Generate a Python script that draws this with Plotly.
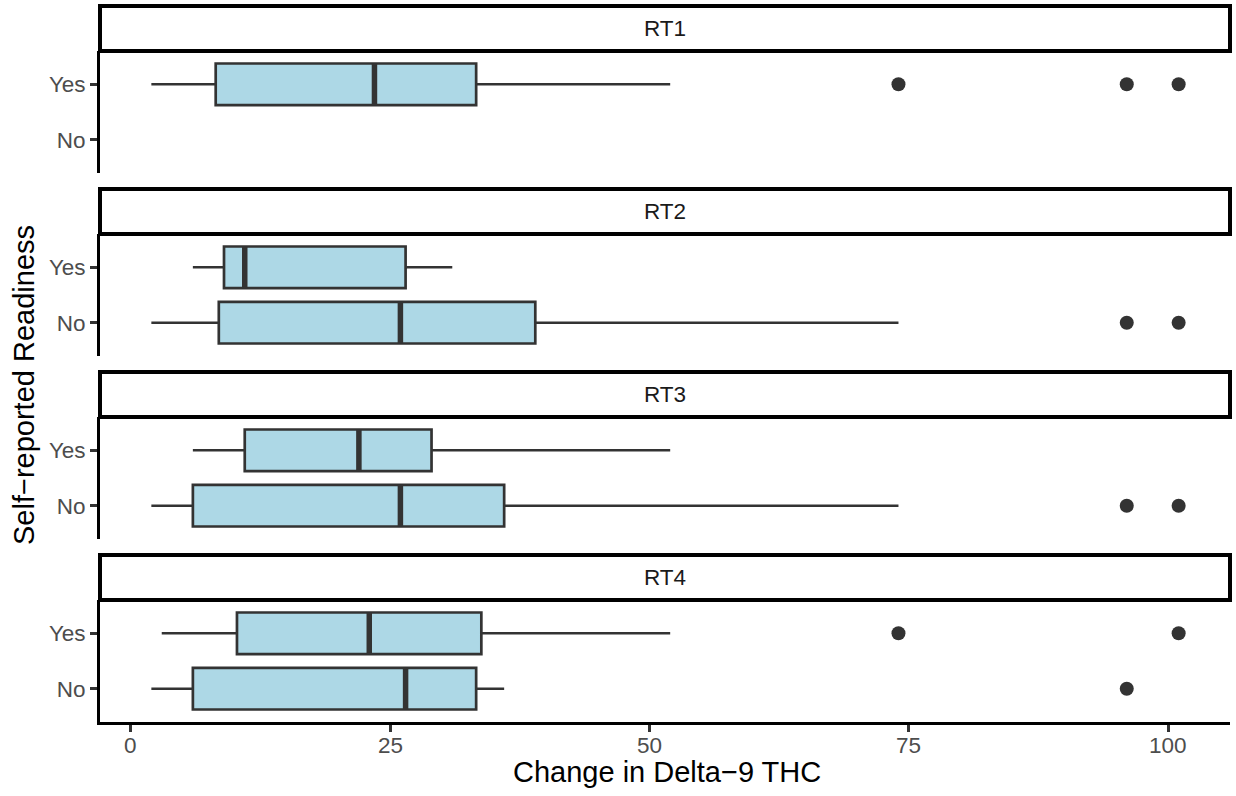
import plotly.graph_objects as go

# ---------------- data ----------------
facets = ["RT1", "RT2", "RT3", "RT4"]
groups = ["No", "Yes"]          # bottom-to-top order on each y axis

yes_low  = [2, 6, 6, 3]
yes_q1   = [8.2, 9, 11, 10.25]
yes_med  = [23.5, 11, 22, 23]
yes_q3   = [33.3, 26.5, 29, 33.8]
yes_high = [52, 31, 52, 52]
yes_out  = [[74, 96, 101], [], [], [74, 101]]

no_low   = [None, 2, 2, 2]
no_q1    = [None, 8.5, 6, 6]
no_med   = [None, 26, 26, 26.5]
no_q3    = [None, 39, 36, 33.3]
no_high  = [None, 74, 74, 36]
no_out   = [[], [96, 101], [96, 101], [96]]

x_ticks = [0, 25, 50, 75, 100]
x_title = "Change in Delta\u22129 THC"
y_title = "Self\u2212reported Readiness"

# ---------------- styling / geometry ----------------
W, H = 1236, 796
ML, MR, MT, MB = 100, 6, 6, 74
PLOT_H = H - MT - MB
STRIP_H, PANEL_H, GAP = 45, 122, 16
FILL = "#ADD8E6"
DARK = "#333333"
FONT = "Liberation Sans, Arial, Helvetica, sans-serif"
TICK_SIZE = 22.5
TITLE_SIZE = 29
BOX_W = 0.75

allvals = []
for arr in (yes_low, yes_high, no_low, no_high):
    allvals += [v for v in arr if v is not None]
for arr in (yes_out, no_out):
    for o in arr:
        allvals += o
lo, hi = min(allvals), max(allvals)
pad = 0.05 * (hi - lo)
x_range = [lo - pad, hi + pad]


def py(rel_px):
    return 1 - rel_px / PLOT_H


fig = go.Figure()
layout = dict()
shapes = []
annotations = []

stats = {
    "Yes": (yes_low, yes_q1, yes_med, yes_q3, yes_high, yes_out),
    "No": (no_low, no_q1, no_med, no_q3, no_high, no_out),
}

for i, fac in enumerate(facets):
    n = i + 1
    xa = "x" if n == 1 else f"x{n}"
    ya = "y" if n == 1 else f"y{n}"
    strip_top = i * (STRIP_H + PANEL_H + GAP)
    strip_bot = strip_top + STRIP_H
    panel_bot = strip_bot + PANEL_H

    for g in groups:
        pos = groups.index(g)
        low, q1, med, q3, high, outs = stats[g]
        if med[i] is not None:
            fig.add_trace(go.Box(
                orientation="h", y=[pos],
                q1=[q1[i]], median=[med[i]], q3=[q3[i]],
                lowerfence=[low[i]], upperfence=[high[i]],
                width=BOX_W, whiskerwidth=0, boxpoints=False,
                fillcolor=FILL, line=dict(color=DARK, width=2.7),
                xaxis=xa, yaxis=ya, showlegend=False, hoverinfo="x"))
            fig.add_trace(go.Scatter(
                x=[med[i], med[i]], y=[pos - BOX_W / 2, pos + BOX_W / 2],
                mode="lines", line=dict(color=DARK, width=5.5),
                xaxis=xa, yaxis=ya, showlegend=False, hoverinfo="skip"))
        if outs[i]:
            fig.add_trace(go.Scatter(
                x=outs[i], y=[pos] * len(outs[i]), mode="markers",
                marker=dict(color=DARK, size=14, line=dict(width=0)),
                xaxis=xa, yaxis=ya, showlegend=False))

    bottom = (i == len(facets) - 1)
    xkey = "xaxis" if n == 1 else f"xaxis{n}"
    ykey = "yaxis" if n == 1 else f"yaxis{n}"
    layout[xkey] = dict(
        domain=[0, 1], anchor=ya, range=x_range, automargin=False,
        showgrid=False, zeroline=False,
        showline=bottom, linecolor="black", linewidth=2.8,
        ticks="outside" if bottom else "", ticklen=7, tickwidth=2.6,
        tickcolor=DARK, tickvals=x_ticks if bottom else [],
        showticklabels=False,
    )
    layout[ykey] = dict(
        domain=[py(panel_bot), py(strip_bot)], anchor=xa,
        range=[-0.6, 1.6], tickvals=[0, 1], ticktext=groups,
        automargin=False, showgrid=False, zeroline=False,
        showline=True, linecolor="black", linewidth=2.8,
        ticks="outside", ticklen=7, tickwidth=2.6, tickcolor=DARK,
        tickfont=dict(size=TICK_SIZE, color="#4D4D4D", family=FONT),
    )
    # facet strip
    shapes.append(dict(
        type="rect", xref="paper", yref="paper",
        x0=0, x1=1, y0=py(strip_bot), y1=py(strip_top),
        line=dict(color="black", width=4), fillcolor="white", layer="below"))
    annotations.append(dict(
        text=fac, xref="paper", yref="paper",
        x=0.5, y=(py(strip_bot) + py(strip_top)) / 2,
        xanchor="center", yanchor="middle", showarrow=False,
        font=dict(size=TICK_SIZE, color="#1A1A1A", family=FONT)))

# x tick labels of the bottom panel (placed at the tick values of x axis 4)
bottom_x = f"x{len(facets)}"
for v in x_ticks:
    annotations.append(dict(
        text=str(v), xref=bottom_x, yref="paper", x=v,
        y=-(745 - (H - MB)) / PLOT_H,
        xanchor="center", yanchor="middle", showarrow=False,
        font=dict(size=TICK_SIZE, color="#4D4D4D", family=FONT)))

annotations.append(dict(
    text=x_title, xref="paper", yref="paper",
    x=(667 - ML) / (W - ML - MR), y=-(772 - (H - MB)) / PLOT_H,
    xanchor="center", yanchor="middle", showarrow=False,
    font=dict(size=TITLE_SIZE, color="black", family=FONT)))
annotations.append(dict(
    text=y_title, xref="paper", yref="paper",
    x=(24 - ML) / (W - ML - MR), y=((H - MB) - 385) / PLOT_H,
    xanchor="center", yanchor="middle", textangle=-90, showarrow=False,
    font=dict(size=TITLE_SIZE, color="black", family=FONT)))

fig.update_layout(
    width=W, height=H,
    margin=dict(l=ML, r=MR, t=MT, b=MB),
    paper_bgcolor="white", plot_bgcolor="white",
    font=dict(family=FONT),
    shapes=shapes, annotations=annotations,
    showlegend=False, boxmode="overlay",
    **layout,
)

fig.write_html(
    "out.html",
    config={"displayModeBar": False},
    post_script="document.body.style.margin='0';document.body.style.overflow='hidden';",
)
